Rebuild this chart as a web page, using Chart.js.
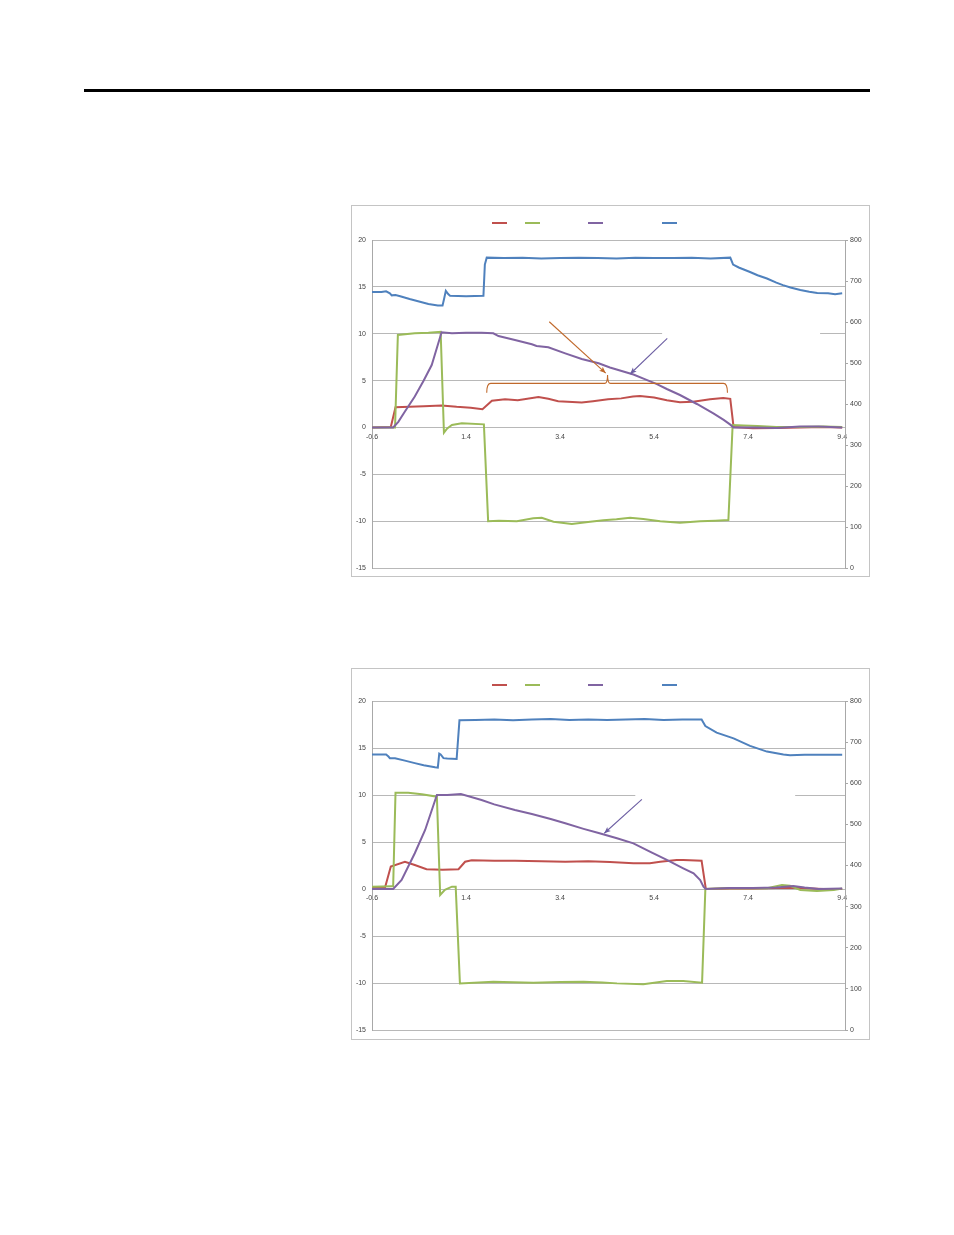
<!DOCTYPE html>
<html>
<head>
<meta charset="utf-8">
<script src="https://cdn.jsdelivr.net/npm/chart.js@4.4.0/dist/chart.umd.min.js"></script>
<style>
  body { margin:0; background:#fff; width:954px; height:1235px; position:relative; overflow:hidden; }
  #rule { position:absolute; left:84px; top:89px; width:786px; height:3px; background:#000; }
  .box { position:absolute; left:351px; width:519px; height:372px; border:1px solid #c4c4c4; box-sizing:border-box; }
  .box canvas { display:block; }
</style>
</head>
<body>
<div id="rule"></div>
<div class="box" style="top:205px"><canvas id="chart1" width="517" height="370"></canvas></div>
<div class="box" style="top:668px"><canvas id="chart2" width="517" height="370"></canvas></div>
<script>
// shared axes
const xTicks = [-0.6, 1.4, 3.4, 5.4, 7.4, 9.4];
const leftTicks = [-15, -10, -5, 0, 5, 10, 15, 20];
const rightTicks = [0, 100, 200, 300, 400, 500, 600, 700, 800];

// chart 1 (top)
const c1RedT = [-0.6, -0.2, -0.1, 0.2, 0.5, 0.88, 1.2, 1.5, 1.75, 1.95, 2.23, 2.5, 2.94, 3.15, 3.36, 3.86, 4.1, 4.42, 4.7, 4.95, 5.1, 5.4, 5.67, 5.95, 6.23, 6.59, 6.87, 7.02, 7.09, 7.5, 8.0, 8.5, 9.0, 9.4];
const c1RedV = [0, 0.05, 2.15, 2.2, 2.25, 2.35, 2.2, 2.1, 1.95, 2.85, 3.0, 2.9, 3.25, 3.05, 2.8, 2.65, 2.8, 3.0, 3.1, 3.3, 3.35, 3.2, 2.9, 2.7, 2.75, 3.0, 3.15, 3.05, 0.05, -0.1, -0.05, 0.0, 0.05, 0.0];

const c1GreenT = [-0.6, -0.11, -0.05, 0.31, 0.6, 0.86, 0.93, 1.0, 1.1, 1.31, 1.78, 1.87, 2.1, 2.48, 2.83, 3.01, 3.26, 3.65, 4.04, 4.32, 4.6, 4.89, 5.17, 5.53, 5.95, 6.38, 6.7, 6.98, 7.07, 7.3, 7.6, 8.0, 8.5, 9.0, 9.4];
const c1GreenV = [0, 0.0, 9.86, 10.05, 10.1, 10.2, -0.56, -0.1, 0.26, 0.44, 0.33, -10.0, -9.95, -10.0, -9.7, -9.64, -10.06, -10.3, -10.06, -9.9, -9.8, -9.64, -9.78, -10.0, -10.17, -10.0, -9.95, -9.88, 0.25, 0.2, 0.15, 0.05, 0.05, 0.1, 0.05];

const c1PurpleT = [-0.6, -0.15, -0.04, 0.1, 0.31, 0.5, 0.67, 0.88, 1.1, 1.4, 1.73, 1.98, 2.09, 2.44, 2.8, 2.9, 3.15, 3.51, 3.86, 4.22, 4.46, 4.96, 5.2, 5.46, 5.67, 5.95, 6.31, 6.66, 6.88, 7.02, 7.09, 7.5, 8.0, 8.5, 8.9, 9.4];
const c1PurpleV = [0, 0.0, 0.6, 1.7, 3.3, 5.0, 6.66, 10.15, 10.05, 10.1, 10.1, 10.04, 9.75, 9.33, 8.87, 8.7, 8.55, 7.9, 7.3, 6.84, 6.4, 5.65, 5.15, 4.63, 4.1, 3.46, 2.5, 1.5, 0.8, 0.3, 0.0, 0.0, -0.05, 0.1, 0.1, 0.0];

const c1BlueT = [-0.6, -0.4, -0.3, -0.22, -0.18, -0.1, 0.0, 0.2, 0.4, 0.6, 0.8, 0.9, 0.93, 0.97, 1.02, 1.06, 1.4, 1.77, 1.8, 1.84, 2.2, 2.6, 3.0, 3.4, 3.8, 4.2, 4.6, 5.0, 5.4, 5.8, 6.2, 6.6, 7.02, 7.08, 7.2, 7.44, 7.6, 7.8, 8.0, 8.14, 8.3, 8.51, 8.7, 8.87, 9.1, 9.25, 9.4];
const c1BlueV = [673, 673, 675, 670, 665, 666, 663, 656, 650, 644, 640, 640, 655, 676, 668, 664, 663, 664, 740, 757, 756, 757, 755, 756, 757, 756, 755, 757, 756, 756, 757, 755, 757, 740, 733, 722, 714, 706, 696, 690, 684, 678, 674, 671, 670, 668, 670];

// chart 2 (bottom)
const c2RedT = [-0.6, -0.32, -0.2, 0.1, 0.31, 0.56, 0.9, 1.24, 1.38, 1.52, 2.0, 2.44, 3.0, 3.51, 4.0, 4.46, 4.96, 5.31, 5.53, 5.88, 6.02, 6.41, 6.5, 7.0, 7.5, 8.0, 8.5, 9.0, 9.4];
const c2RedV = [0.15, 0.2, 2.4, 2.9, 2.55, 2.1, 2.05, 2.1, 2.9, 3.05, 3.0, 3.0, 2.95, 2.9, 2.95, 2.87, 2.75, 2.75, 2.9, 3.08, 3.08, 3.0, 0.0, 0.05, 0.05, 0.1, 0.1, 0.0, 0.0];

const c2GreenT = [-0.6, -0.18, -0.15, -0.1, 0.17, 0.46, 0.78, 0.85, 0.95, 1.1, 1.18, 1.27, 1.98, 2.4, 2.83, 3.4, 3.9, 4.3, 4.61, 5.17, 5.67, 6.02, 6.42, 6.49, 7.0, 7.5, 7.8, 8.12, 8.29, 8.51, 8.86, 9.22, 9.4];
const c2GreenV = [0.25, 0.3, 0.3, 10.25, 10.25, 10.07, 9.82, -0.64, -0.1, 0.25, 0.25, -10.04, -9.86, -9.92, -9.97, -9.9, -9.86, -9.95, -10.04, -10.14, -9.8, -9.8, -9.97, 0.0, 0.1, 0.07, 0.07, 0.43, 0.35, -0.1, -0.2, -0.1, 0.05];

const c2PurpleT = [-0.6, -0.15, 0.03, 0.31, 0.53, 0.78, 1.0, 1.29, 1.73, 2.0, 2.44, 2.8, 3.2, 3.51, 3.9, 4.22, 4.61, 4.96, 5.31, 5.67, 6.02, 6.24, 6.38, 6.45, 6.5, 7.0, 7.5, 8.0, 8.36, 8.6, 8.9, 9.4];
const c2PurpleV = [0, 0.0, 0.96, 3.8, 6.28, 10.0, 10.0, 10.1, 9.47, 9.0, 8.4, 7.98, 7.45, 6.99, 6.4, 5.95, 5.4, 4.86, 3.97, 3.09, 2.2, 1.67, 0.96, 0.25, 0.0, 0.1, 0.1, 0.15, 0.32, 0.15, 0.0, 0.05];

const c2BlueT = [-0.6, -0.3, -0.25, -0.22, -0.11, 0.1, 0.31, 0.5, 0.74, 0.8, 0.83, 0.86, 0.92, 1.0, 1.2, 1.26, 1.6, 2.0, 2.4, 2.8, 3.2, 3.6, 4.0, 4.4, 4.8, 5.2, 5.6, 6.0, 6.41, 6.49, 6.73, 7.09, 7.44, 7.8, 8.15, 8.29, 8.6, 9.0, 9.4];
const c2BlueV = [670, 670, 665, 661, 661, 655, 649, 644, 639, 638, 672, 670, 661, 660, 659, 753, 754, 755, 753, 755, 756, 754, 755, 754, 755, 756, 754, 755, 755, 739, 723, 709, 691, 677, 670, 668, 669, 669, 669];

const RED = '#c0504d', GREEN = '#9bbb59', PURPLE = '#8064a2', BLUE = '#4f81bd';
const ORANGE_NOTE = '#c0692b', PURPLE_NOTE = '#6d5fa3';

Chart.defaults.font.family = '"Liberation Sans", Arial, sans-serif';
Chart.defaults.font.size = 7;
Chart.defaults.color = '#444';

const pts = (ts, vs) => ts.map((t, i) => ({x: t, y: vs[i]}));

function arrow(ctx, x0, y0, x1, y1, color) {
  const a = Math.atan2(y1 - y0, x1 - x0);
  ctx.strokeStyle = color; ctx.fillStyle = color; ctx.lineWidth = 1.1;
  ctx.beginPath(); ctx.moveTo(x0, y0); ctx.lineTo(x1, y1); ctx.stroke();
  ctx.beginPath();
  ctx.moveTo(x1, y1);
  ctx.lineTo(x1 - 7 * Math.cos(a - 0.4), y1 - 7 * Math.sin(a - 0.4));
  ctx.lineTo(x1 - 5 * Math.cos(a), y1 - 5 * Math.sin(a));
  ctx.lineTo(x1 - 7 * Math.cos(a + 0.4), y1 - 7 * Math.sin(a + 0.4));
  ctx.closePath(); ctx.fill();
}

// white gaps, arrows, brace and the bare legend swatches
const notesPlugin = {
  id: 'notes',
  beforeDatasetsDraw(chart, args, o) {
    const {ctx, scales: {x, y}} = chart;
    if (!o.gap) return;
    const x0 = x.getPixelForValue(o.gap[0]), x1 = x.getPixelForValue(o.gap[1]);
    const yy = y.getPixelForValue(o.gap[2]);
    ctx.save(); ctx.fillStyle = '#fff';
    ctx.fillRect(x0, yy - 2, x1 - x0, 4);
    ctx.restore();
  },
  afterDatasetsDraw(chart, args, o) {
    const {ctx, scales: {x, y}} = chart;
    ctx.save();
    (o.arrows || []).forEach(a => {
      arrow(ctx, x.getPixelForValue(a.from[0]), y.getPixelForValue(a.from[1]),
        x.getPixelForValue(a.to[0]), y.getPixelForValue(a.to[1]), a.color);
    });
    const b = o.brace;
    if (b) {
      const xa = x.getPixelForValue(b.t0), xb = x.getPixelForValue(b.t1), xm = x.getPixelForValue(b.tip);
      const yl = y.getPixelForValue(b.v), ye = y.getPixelForValue(b.vEnd), yt = y.getPixelForValue(b.vTip);
      ctx.strokeStyle = b.color; ctx.lineWidth = 1.1;
      ctx.beginPath();
      ctx.moveTo(xa, ye);
      ctx.quadraticCurveTo(xa, yl, xa + 4, yl);
      ctx.lineTo(xm - 3, yl);
      ctx.quadraticCurveTo(xm, yl, xm, yt);
      ctx.quadraticCurveTo(xm, yl, xm + 3, yl);
      ctx.lineTo(xb - 4, yl);
      ctx.quadraticCurveTo(xb, yl, xb, ye);
      ctx.stroke();
    }
    ctx.restore();
  },
  afterDraw(chart, args, o) {
    const ctx = chart.ctx;
    ctx.save(); ctx.lineWidth = 2;
    chart.data.datasets.forEach((ds, i) => {
      ctx.strokeStyle = ds.borderColor;
      ctx.beginPath();
      ctx.moveTo(o.swatchX[i], o.swatchY);
      ctx.lineTo(o.swatchX[i] + 15, o.swatchY);
      ctx.stroke();
    });
    ctx.restore();
  }
};

function makeChart(id, series, notes, pad) {
  const [redT, redV, greenT, greenV, purpleT, purpleV, blueT, blueV] = series;
  return new Chart(document.getElementById(id), {
    type: 'line',
    data: {
      datasets: [
        {data: pts(redT, redV), borderColor: RED, yAxisID: 'y', order: 4},
        {data: pts(greenT, greenV), borderColor: GREEN, yAxisID: 'y', order: 3},
        {data: pts(purpleT, purpleV), borderColor: PURPLE, yAxisID: 'y', order: 2},
        {data: pts(blueT, blueV), borderColor: BLUE, yAxisID: 'y2', order: 1}
      ]
    },
    options: {
      responsive: false,
      animation: false,
      layout: {padding: {top: pad.top, bottom: pad.bottom, left: 0, right: 0}},
      elements: {
        line: {borderWidth: 2, tension: 0},
        point: {radius: 0}
      },
      scales: {
        x: {
          type: 'linear',
          position: {y: 0},
          min: -0.6, max: 9.46,
          afterBuildTicks: s => { s.ticks = xTicks.map(v => ({value: v})); },
          ticks: {callback: v => v.toFixed(1), padding: 5, maxRotation: 0, autoSkip: false},
          grid: {display: false, drawTicks: false},
          border: {display: false}
        },
        y: {
          position: 'left',
          min: -15, max: 20,
          afterBuildTicks: s => { s.ticks = leftTicks.map(v => ({value: v})); },
          afterFit: s => { s.width = 20; s.paddingTop = 0; s.paddingBottom = 0; },
          ticks: {padding: 6},
          grid: {color: '#b8b8b8', drawTicks: false},
          border: {color: '#a8a8a8'}
        },
        y2: {
          position: 'right',
          min: 0, max: 800,
          afterBuildTicks: s => { s.ticks = rightTicks.map(v => ({value: v})); },
          afterFit: s => { s.width = 24; s.paddingTop = 0; s.paddingBottom = 0; },
          ticks: {padding: 2},
          grid: {drawOnChartArea: false, drawTicks: true, tickLength: 3, color: '#a8a8a8'},
          border: {color: '#a8a8a8'}
        }
      },
      plugins: {
        legend: {display: false},
        tooltip: {enabled: false},
        notes
      }
    },
    plugins: [notesPlugin]
  });
}

makeChart('chart1',
  [c1RedT, c1RedV, c1GreenT, c1GreenV, c1PurpleT, c1PurpleV, c1BlueT, c1BlueV],
  {
    gap: [5.57, 8.93, 10],
    arrows: [
      {from: [3.17, 11.28], to: [4.37, 5.8], color: ORANGE_NOTE},
      {from: [5.68, 9.51], to: [4.89, 5.7], color: PURPLE_NOTE}
    ],
    brace: {t0: 1.84, t1: 6.96, tip: 4.41, v: 4.7, vEnd: 3.7, vTip: 5.6, color: ORANGE_NOTE},
    swatchX: [140, 173, 236, 310], swatchY: 17
  },
  {top: 34, bottom: 8});

makeChart('chart2',
  [c2RedT, c2RedV, c2GreenT, c2GreenV, c2PurpleT, c2PurpleV, c2BlueT, c2BlueV],
  {
    gap: [5.0, 8.4, 10],
    arrows: [
      {from: [5.14, 9.54], to: [4.34, 5.93], color: PURPLE_NOTE}
    ],
    swatchX: [140, 173, 236, 310], swatchY: 16
  },
  {top: 32, bottom: 9});
</script>
</body>
</html>
